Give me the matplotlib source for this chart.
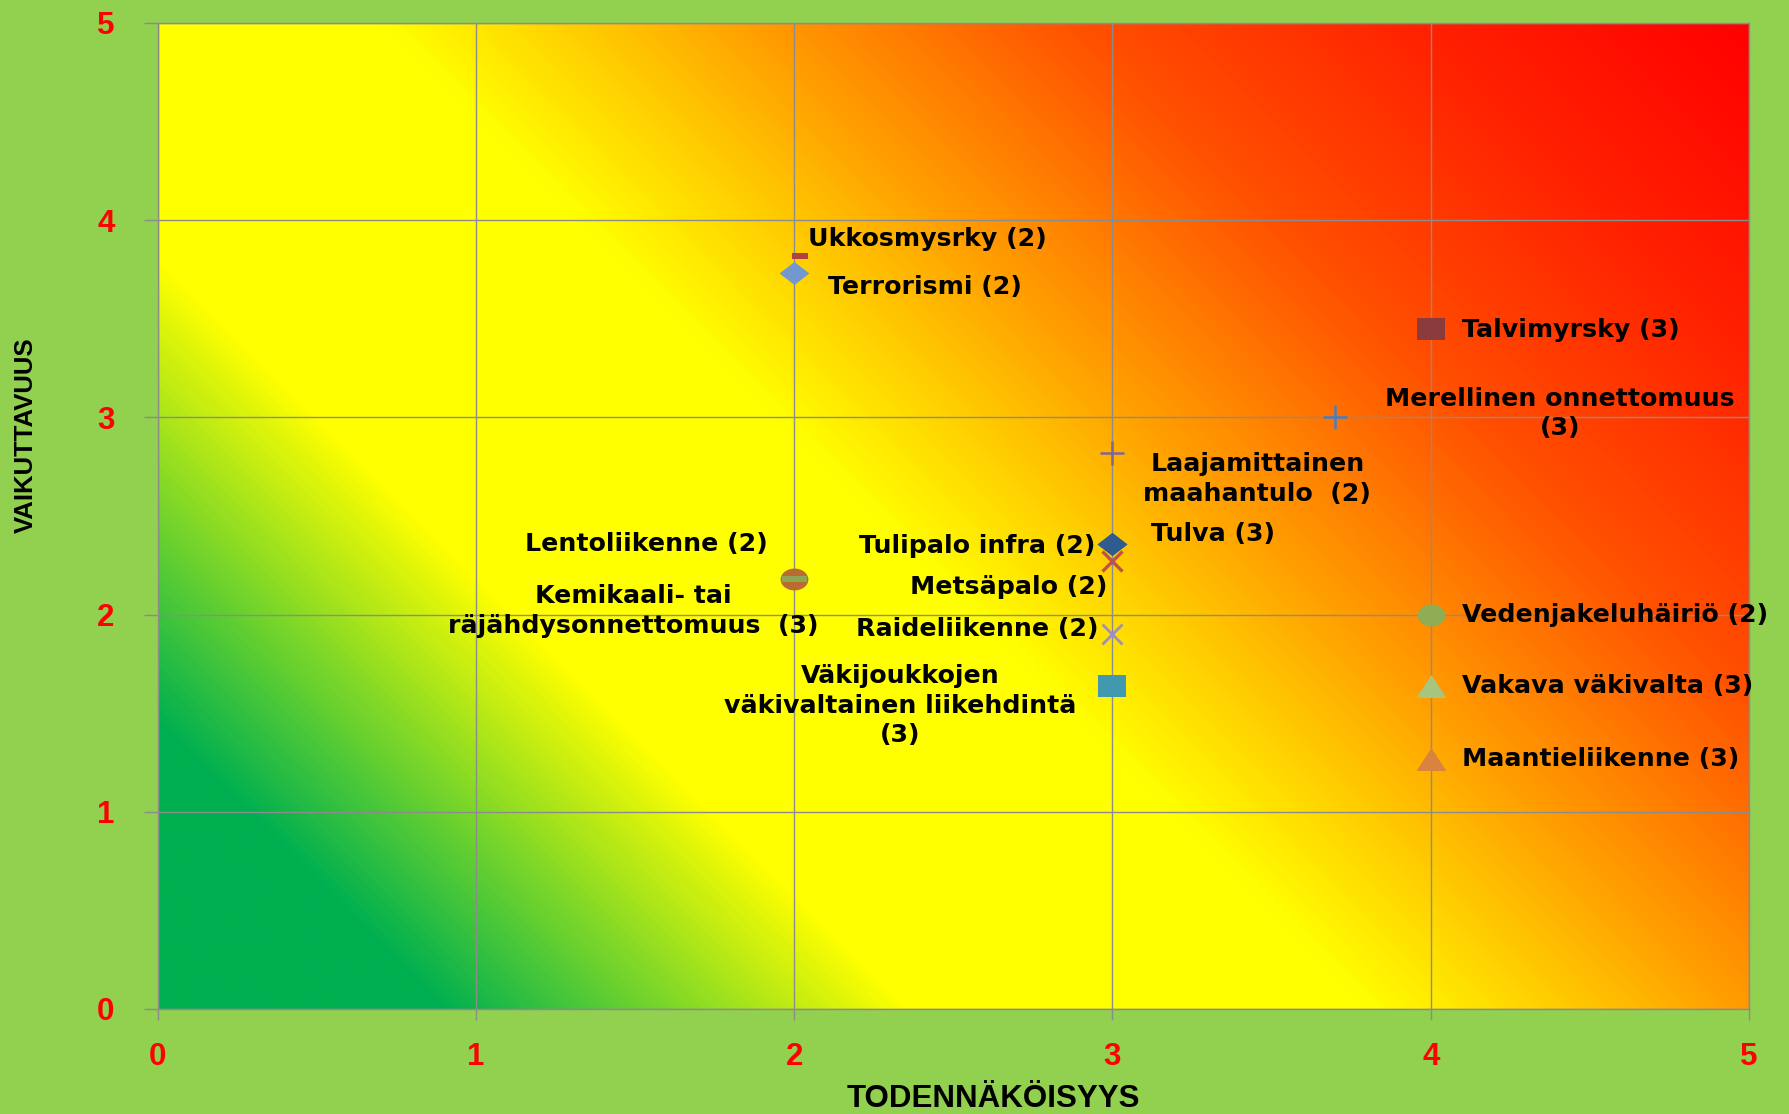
import numpy as np
import matplotlib
matplotlib.use("Agg")
import matplotlib.pyplot as plt
from matplotlib.colors import LinearSegmentedColormap
from matplotlib.path import Path
from matplotlib.transforms import Affine2D
from matplotlib import font_manager

# ---------------- data ----------------
risk_labels = [
    "Lentoliikenne (2)",
    "Kemikaali- tai\nräjähdysonnettomuus  (3)",
    "Ukkosmysrky (2)",
    "Terrorismi (2)",
    "Talvimyrsky (3)",
    "Merellinen onnettomuus\n(3)",
    "Laajamittainen\nmaahantulo  (2)",
    "Tulva (3)",
    "Tulipalo infra (2)",
    "Metsäpalo (2)",
    "Raideliikenne (2)",
    "Väkijoukkojen\nväkivaltainen liikehdintä\n(3)",
    "Vedenjakeluhäiriö (2)",
    "Vakava väkivalta (3)",
    "Maantieliikenne (3)",
]
likelihood = [2.0, 2.0, 2.02, 2.0, 4.0, 3.7, 3.0, 3.0, 3.0, 3.0, 3.0, 3.0, 4.0, 4.0, 4.0]
impact = [2.18, 2.18, 3.82, 3.73, 3.45, 3.0, 2.82, 2.36, 2.36, 2.27, 1.90, 1.64, 2.0, 1.64, 1.27]

x_ticks = [0, 1, 2, 3, 4, 5]
y_ticks = [0, 1, 2, 3, 4, 5]
x_title = "TODENNÄKÖISYYS"
y_title = "VAIKUTTAVUUS"

# ---------------- styles ----------------
SX = 1.27  # markers in the reference are horizontally stretched


def poly(verts):
    v = np.array(verts, float)
    v = np.vstack([v, v[:1]])
    return Path(v, closed=True)


ellipse = Path.unit_circle().transformed(Affine2D().scale(SX, 1.0))
diamond = poly([(0, 1), (1.3, 0), (0, -1), (-1.3, 0)])
square = poly([(-SX, -1), (SX, -1), (SX, 1), (-SX, 1)])
triangle = poly([(-1.3, -1), (1.3, -1), (0, 1)])
dash_small = poly([(-1, -0.4), (1, -0.4), (1, 0.4), (-1, 0.4)])
dash_long = poly([(-1, -0.24), (1, -0.24), (1, 0.24), (-1, 0.24)])

marker_styles = [
    dict(marker=ellipse, ms=20, color="#BA6C30", mew=0),
    dict(marker=dash_long, ms=18, color="#8CA655", mew=0),
    dict(marker=dash_small, ms=12, color="#B2423F", mew=0),
    dict(marker=diamond, ms=21.5, color="#7199CF", mew=0),
    dict(marker=square, ms=20, color="#8C3B3C", mew=0),
    dict(marker="+", ms=17, color="#4A7EBB", mew=1.8),
    dict(marker="+", ms=17, color="#8064A2", mew=1.8),
    dict(marker=diamond, ms=21.5, color="#2F5B8E", mew=0),
    dict(marker=diamond, ms=21.5, color="#2F5B8E", mew=0),
    dict(marker="x", ms=15, color="#C0504D", mew=2.4),
    dict(marker="x", ms=15, color="#9D8DC8", mew=2.0),
    dict(marker=square, ms=20, color="#4198AF", mew=0),
    dict(marker=ellipse, ms=20, color="#8FAD55", mew=0),
    dict(marker=triangle, ms=21.5, color="#A8C57F", mew=0),
    dict(marker=triangle, ms=21.5, color="#D9843E", mew=0),
]

# label offsets in pixels (dx, dy) and horizontal alignment
label_offsets = [
    (-26, 35), (-161, -32), (8, 17), (34, -14), (31, -1),
    (225, 4), (145, -26), (39, 10), (-17, -2), (-5, -26),
    (-14, 5), (-212, -20), (31, 0), (31, 0), (31, 0),
]
label_ha = ["right", "center", "left", "left", "left",
            "center", "center", "left", "right", "right",
            "right", "center", "left", "left", "left"]

bg_color = "#92D050"
grad_stops = [(0.0, "#00B050"), (0.11, "#00B050"), (0.29, "#FFFF00"),
              (0.47, "#FFFF00"), (0.61, "#FFA000"), (0.74, "#FF5000"),
              (0.87, "#FF2200"), (1.0, "#FF0000")]

avail = {f.name for f in font_manager.fontManager.ttflist}
narrow_ok = "Liberation Sans Narrow" in avail

# ---------------- figure ----------------
W_IN, H_IN, DPI = 17.89, 11.14, 100
fig = plt.figure(figsize=(W_IN, H_IN), dpi=DPI, facecolor=bg_color)
left, right, top, bottom = 157.5, 1749.0, 23.0, 1009.0
ax = fig.add_axes([left / 1789, (1114 - bottom) / 1114,
                   (right - left) / 1789, (bottom - top) / 1114])

# diagonal gradient background (45 degrees in pixel space)
Wp, Hp = right - left, bottom - top
nx, ny = 800, 500
px = np.linspace(0, Wp, nx)
py = np.linspace(0, Hp, ny)
T = (px[None, :] + py[:, None]) / (Wp + Hp)
cmap = LinearSegmentedColormap.from_list("risk", grad_stops)
ax.imshow(T, extent=[0, 5, 0, 5], origin="lower", aspect="auto",
          cmap=cmap, vmin=0, vmax=1, zorder=0, interpolation="bilinear")

ax.set_xlim(0, 5)
ax.set_ylim(0, 5)
ax.set_xticks(x_ticks)
ax.set_yticks(y_ticks)
ax.set_xticklabels([str(v) for v in x_ticks])
ax.set_yticklabels([str(v) for v in y_ticks])
ax.grid(True, color="#8C8C8C", lw=1.0, zorder=1)
for s in ax.spines.values():
    s.set_color("#8C8C8C")
    s.set_linewidth(1.0)

ax.tick_params(axis="x", length=8, width=1, color="#8C8C8C", pad=16,
               labelsize=22.5, labelcolor="#FF0000")
ax.tick_params(axis="y", length=10, width=1, color="#8C8C8C", pad=21,
               labelsize=22.5, labelcolor="#FF0000")
for lbl in ax.get_xticklabels() + ax.get_yticklabels():
    lbl.set_fontweight("bold")
    lbl.set_family(["Liberation Sans", "DejaVu Sans"])

# markers
for x, y, st in zip(likelihood, impact, marker_styles):
    ax.plot([x], [y], linestyle="none", marker=st["marker"], ms=st["ms"],
            color=st["color"], mec=st["color"], mew=st["mew"], zorder=3)

# labels
for name, x, y, off, ha in zip(risk_labels, likelihood, impact, label_offsets, label_ha):
    ax.annotate(name, (x, y), xytext=off, textcoords="offset pixels",
                ha=ha, va="center", multialignment="center",
                fontsize=18.2, fontweight="bold", color="black",
                family=["DejaVu Sans"], linespacing=1.28, zorder=4)

# axis titles
ax.set_xlabel(x_title, fontsize=22.5, fontweight="bold", color="black",
              family=["Liberation Sans", "DejaVu Sans"])
ax.xaxis.label.set_va("center")
ax.xaxis.set_label_coords((993 - left) / Wp, (bottom - 1099) / Hp)

if narrow_ok:
    ax.set_ylabel(y_title, fontsize=22.5, fontweight="bold", color="black",
                  family=["Liberation Sans Narrow", "DejaVu Sans"])
else:
    ax.set_ylabel(y_title, fontsize=18.5, fontweight="bold", color="black",
                  family=["Liberation Sans", "DejaVu Sans"])
ax.yaxis.label.set_va("center")
ax.yaxis.set_label_coords((26 - left) / Wp, (bottom - 435) / Hp)

fig.savefig("out.png", dpi=DPI, facecolor=bg_color)
